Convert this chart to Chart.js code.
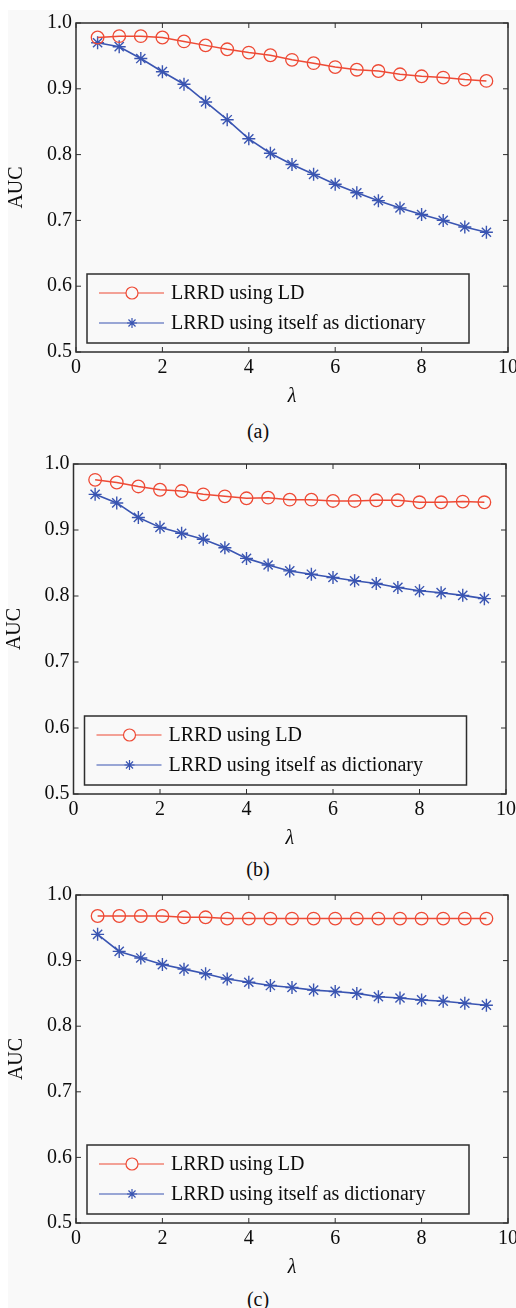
<!DOCTYPE html>
<html>
<head>
<meta charset="utf-8">
<script src="https://cdn.jsdelivr.net/npm/chart.js@4/dist/chart.umd.min.js"></script>
<style>
  html, body { margin: 0; padding: 0; background: #fff; }
  #sheet { position: absolute; left: 8px; top: 10px; width: 508px; height: 1298px; background: #f9f9f9; }
  .fig { position: absolute; left: 0; width: 516px; }
  .cap { position: absolute; left: 0; width: 516px; text-align: center; line-height: 24px;
         font: 20px "Liberation Serif", "Times New Roman", serif; color: #0d0d0d; }
</style>
</head>
<body>
<div id="sheet"></div>
<div class="fig" style="top:0px"><canvas id="chartA" width="516" height="409"></canvas></div>
<div class="cap" style="top:420px">(a)</div>
<div class="fig" style="top:441px"><canvas id="chartB" width="516" height="410"></canvas></div>
<div class="cap" style="top:858px">(b)</div>
<div class="fig" style="top:872px"><canvas id="chartC" width="516" height="408"></canvas></div>
<div class="cap" style="top:1288px">(c)</div>

<script>
// lambda sweep shared by all three panels
var LAMBDA = [0.5, 1.0, 1.5, 2.0, 2.5, 3.0, 3.5, 4.0, 4.5, 5.0, 5.5, 6.0, 6.5, 7.0, 7.5, 8.0, 8.5, 9.0, 9.5];
var X_TICKS = [0, 2, 4, 6, 8, 10];
var Y_TICKS = [0.5, 0.6, 0.7, 0.8, 0.9, 1.0];
var SERIES_NAMES = ['LRRD using LD', 'LRRD using itself as dictionary'];

// (a)
var LD_A   = [0.978, 0.980, 0.980, 0.978, 0.972, 0.966, 0.960, 0.955, 0.951, 0.944, 0.939, 0.933, 0.929, 0.927, 0.922, 0.919, 0.917, 0.914, 0.912];
var SELF_A = [0.970, 0.964, 0.946, 0.926, 0.907, 0.880, 0.853, 0.824, 0.802, 0.785, 0.770, 0.755, 0.742, 0.730, 0.719, 0.709, 0.700, 0.690, 0.682];
// (b)
var LD_B   = [0.976, 0.972, 0.966, 0.961, 0.959, 0.954, 0.951, 0.948, 0.949, 0.946, 0.946, 0.944, 0.944, 0.945, 0.945, 0.942, 0.942, 0.943, 0.942];
var SELF_B = [0.954, 0.941, 0.919, 0.904, 0.895, 0.886, 0.873, 0.857, 0.847, 0.838, 0.833, 0.828, 0.823, 0.819, 0.813, 0.808, 0.805, 0.801, 0.796];
// (c)
var LD_C   = [0.968, 0.968, 0.968, 0.968, 0.966, 0.966, 0.964, 0.964, 0.964, 0.964, 0.964, 0.964, 0.964, 0.964, 0.964, 0.964, 0.964, 0.964, 0.964];
var SELF_C = [0.940, 0.914, 0.904, 0.894, 0.887, 0.880, 0.872, 0.867, 0.862, 0.859, 0.855, 0.853, 0.850, 0.845, 0.843, 0.840, 0.838, 0.835, 0.832];

var RED = '#ee4a35';
var BLUE = '#3a55b2';
var FRAME = '#2e2e2e';
var TEXT = '#0d0d0d';
var SERIF = '"Liberation Serif", "Times New Roman", serif';

Chart.defaults.font.family = SERIF;
Chart.defaults.font.size = 20;
Chart.defaults.color = TEXT;

function pts(vals) {
  return LAMBDA.map(function (x, i) { return { x: x, y: vals[i] }; });
}

// box around the axes, inward tick marks on all four sides
var framePlugin = {
  id: 'frame',
  afterDatasetsDraw: function (chart) {
    var ctx = chart.ctx, a = chart.chartArea;
    var xs = chart.scales.x, ys = chart.scales.y, t = 5;
    ctx.save();
    ctx.strokeStyle = FRAME;
    ctx.lineWidth = 1.5;
    ctx.strokeRect(a.left, a.top, a.right - a.left, a.bottom - a.top);
    ctx.lineWidth = 1;
    ctx.beginPath();
    X_TICKS.forEach(function (v) {
      var px = xs.getPixelForValue(v);
      ctx.moveTo(px, a.bottom); ctx.lineTo(px, a.bottom - t);
      ctx.moveTo(px, a.top); ctx.lineTo(px, a.top + t);
    });
    Y_TICKS.forEach(function (v) {
      var py = ys.getPixelForValue(v);
      ctx.moveTo(a.left, py); ctx.lineTo(a.left + t, py);
      ctx.moveTo(a.right, py); ctx.lineTo(a.right - t, py);
    });
    ctx.stroke();
    ctx.restore();
  }
};

// legend drawn inside the axes, lower left, with a border
var boxLegend = {
  id: 'boxLegend',
  afterDraw: function (chart) {
    var ctx = chart.ctx, a = chart.chartArea;
    var w = 382, h = 69;
    var bx = a.left + 11, by = a.bottom - 9 - h;
    ctx.save();
    ctx.fillStyle = '#f9f9f9';
    ctx.fillRect(bx, by, w, h);
    ctx.strokeStyle = FRAME;
    ctx.lineWidth = 1.5;
    ctx.strokeRect(bx, by, w, h);
    chart.data.datasets.forEach(function (ds, i) {
      var y = by + 19 + i * 30;
      ctx.strokeStyle = ds.borderColor;
      ctx.lineWidth = 1.2;
      ctx.beginPath();
      ctx.moveTo(bx + 12, y); ctx.lineTo(bx + 77, y);
      ctx.stroke();
      Chart.helpers.drawPoint(ctx, {
        pointStyle: ds.pointStyle,
        radius: ds.pointStyle === 'star' ? 5 : 6,
        rotation: 0,
        borderWidth: ds.pointBorderWidth
      }, bx + 45, y);
      ctx.fillStyle = TEXT;
      ctx.font = '20px ' + SERIF;
      ctx.textBaseline = 'middle';
      ctx.textAlign = 'left';
      ctx.fillText(ds.label, bx + 84, y + 1);
    });
    ctx.restore();
  }
};

function makePanel(id, ldVals, selfVals, padLeft, areaRight) {
  return new Chart(document.getElementById(id), {
    type: 'line',
    data: {
      datasets: [{
        label: SERIES_NAMES[0],
        data: pts(ldVals),
        borderColor: RED,
        borderWidth: 1.5,
        pointStyle: 'circle',
        pointRadius: 6.3,
        pointBorderWidth: 1.3,
        pointBorderColor: RED,
        pointBackgroundColor: 'rgba(0,0,0,0)',
        tension: 0
      }, {
        label: SERIES_NAMES[1],
        data: pts(selfVals),
        borderColor: BLUE,
        borderWidth: 1.6,
        pointStyle: 'star',
        pointRadius: 6.5,
        pointBorderWidth: 1.4,
        pointBorderColor: BLUE,
        pointBackgroundColor: BLUE,
        tension: 0
      }]
    },
    options: {
      responsive: false,
      animation: false,
      layout: { padding: { left: padLeft, top: 23, right: 516 - areaRight, bottom: 0 } },
      plugins: { legend: { display: false }, tooltip: { enabled: false } },
      scales: {
        x: {
          type: 'linear', min: 0, max: 10,
          grid: { display: false, drawTicks: false },
          border: { display: false },
          afterBuildTicks: function (s) { s.ticks = X_TICKS.map(function (v) { return { value: v }; }); },
          afterFit: function (s) { s.height = 57; s.paddingLeft = 0; s.paddingRight = 0; },
          ticks: { padding: 4, maxRotation: 0, autoSkip: false, color: TEXT, font: { size: 20 } },
          title: { display: true, text: 'λ', padding: 0, color: TEXT, font: { size: 20, style: 'italic' } }
        },
        y: {
          type: 'linear', min: 0.5, max: 1.0,
          grid: { display: false, drawTicks: false },
          border: { display: false },
          afterBuildTicks: function (s) { s.ticks = Y_TICKS.map(function (v) { return { value: v }; }); },
          afterFit: function (s) { s.width = 71; s.paddingTop = 0; s.paddingBottom = 0; },
          ticks: { padding: 4, autoSkip: false, color: TEXT, font: { size: 20 },
                   callback: function (v) { return Number(v).toFixed(1); } },
          title: { display: true, text: 'AUC', padding: 0, color: TEXT, font: { size: 20 } }
        }
      }
    },
    plugins: [framePlugin, boxLegend]
  });
}

makePanel('chartA', LD_A, SELF_A, 5, 508);
makePanel('chartB', LD_B, SELF_B, 2.5, 506);
makePanel('chartC', LD_C, SELF_C, 5, 508);
</script>
</body>
</html>
